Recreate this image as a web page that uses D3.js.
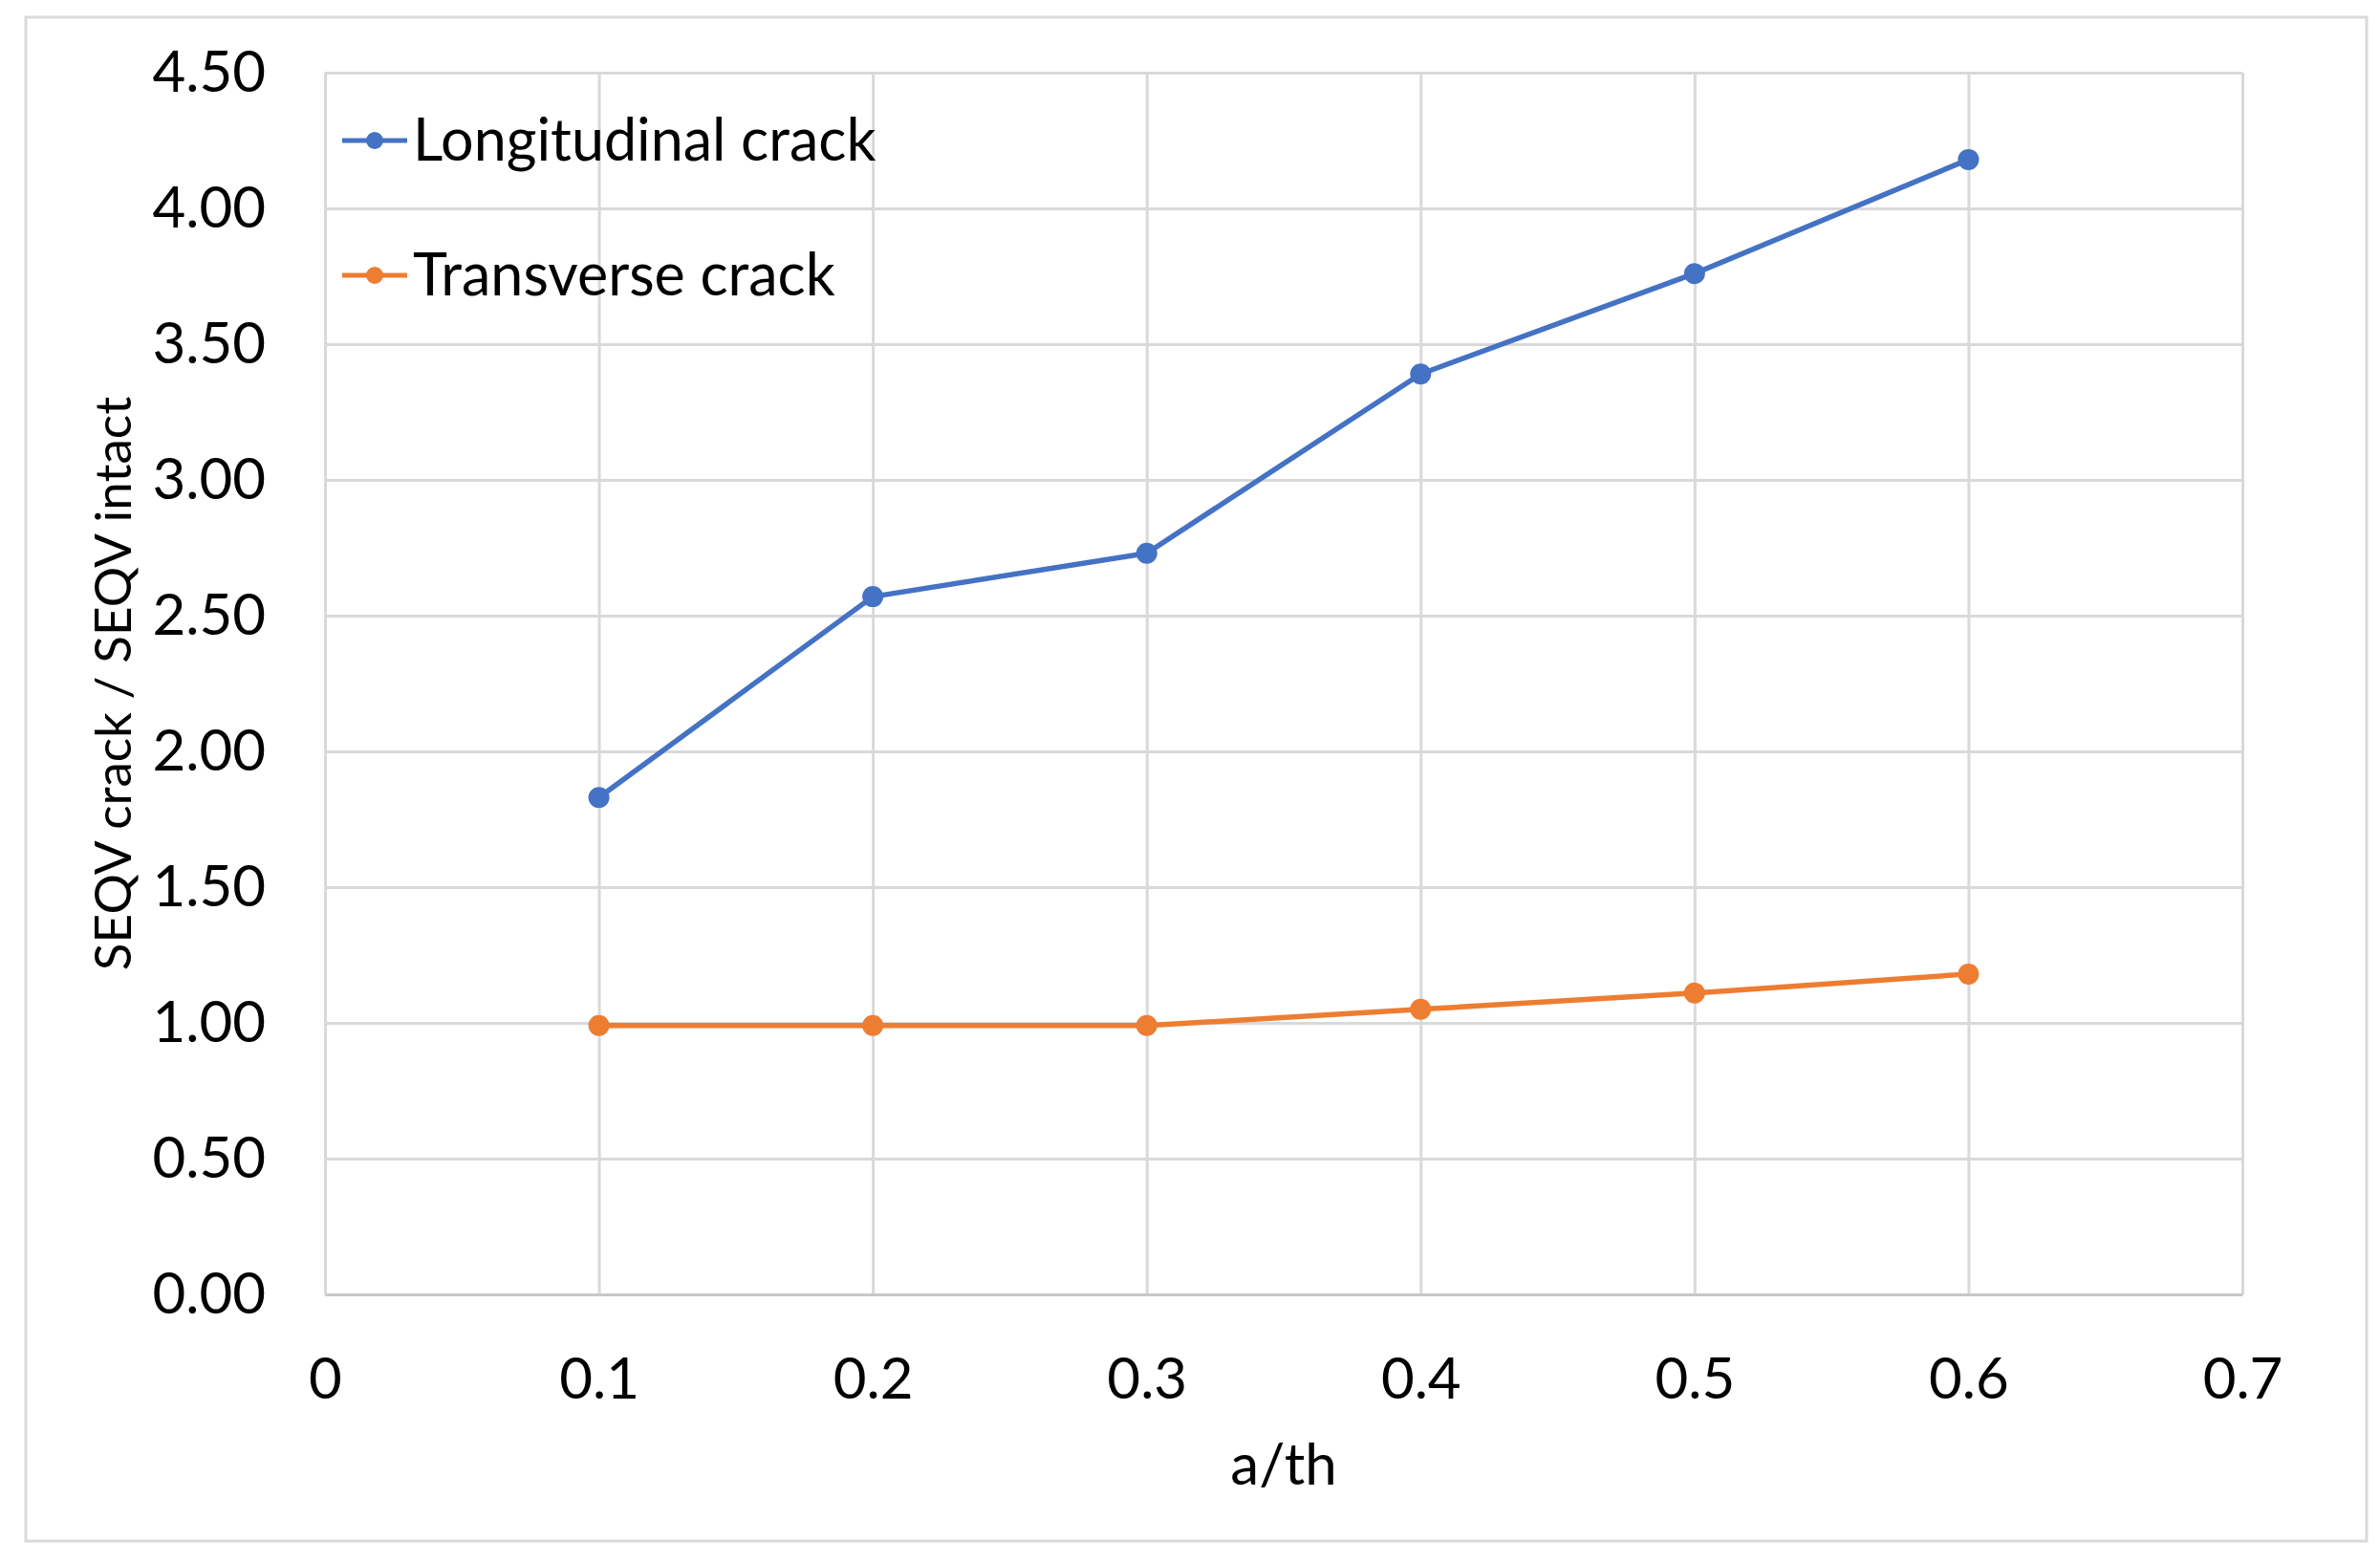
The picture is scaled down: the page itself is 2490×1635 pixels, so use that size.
<!DOCTYPE html>
<html>
<head>
<meta charset="utf-8">
<script src="https://cdn.jsdelivr.net/npm/d3@7"></script>
<style>
  body { margin: 0; background: #ffffff; }
  text { font-family: Lato, "Open Sans", sans-serif; fill: #000000; }
</style>
</head>
<body>
<div id="chart"></div>
<script>
// data
const xValues = [0.1, 0.2, 0.3, 0.4, 0.5, 0.6];
const longitudinal = [1.83, 2.57, 2.73, 3.39, 3.76, 4.18];
const transverse = [0.99, 0.99, 0.99, 1.05, 1.11, 1.18];
const seriesNames = ["Longitudinal crack", "Transverse crack"];
const seriesColors = ["#4472C4", "#ED7D31"];
const xTicks = [0, 0.1, 0.2, 0.3, 0.4, 0.5, 0.6, 0.7];
const yTicks = [0, 0.5, 1, 1.5, 2, 2.5, 3, 3.5, 4, 4.5];
const xTitle = "a/th";
const yTitle = "SEQV crack / SEQV intact";

var W = 2490, H = 1635;
var margin = { left: 340, right: 144, top: 76, bottom: 281 };
var width = W - margin.left - margin.right;
var height = H - margin.top - margin.bottom;

var svg = d3.select("#chart").append("svg")
  .attr("width", W).attr("height", H);

// chart border
svg.append("rect")
  .attr("x", 27).attr("y", 18)
  .attr("width", 2449).attr("height", 1594)
  .attr("fill", "#ffffff")
  .attr("stroke", "#D9D9D9")
  .attr("stroke-width", 3);

var g = svg.append("g")
  .attr("transform", "translate(" + margin.left + "," + margin.top + ")");

var xScale = d3.scaleLinear().domain([0, 0.7]).range([0, width]);
var yScale = d3.scaleLinear().domain([0, 4.5]).range([height, 0]);

// gridlines
g.append("g")
  .attr("class", "grid-x")
  .attr("transform", "translate(0," + height + ")")
  .call(d3.axisBottom(xScale).tickValues(xTicks).tickSize(-height).tickFormat(""))
  .call(a => a.select(".domain").remove())
  .selectAll("line").attr("stroke", "#D9D9D9").attr("stroke-width", 3);

g.append("g")
  .attr("class", "grid-y")
  .call(d3.axisLeft(yScale).tickValues(yTicks).tickSize(-width).tickFormat(""))
  .call(a => a.select(".domain").remove())
  .selectAll("line").attr("stroke", "#D9D9D9").attr("stroke-width", 3);

// x axis
var xAxis = g.append("g")
  .attr("transform", "translate(0," + height + ")")
  .call(d3.axisBottom(xScale).tickValues(xTicks).tickSize(0).tickPadding(66)
    .tickFormat(d => d === 0 ? "0" : d.toFixed(1)));
xAxis.select(".domain").attr("stroke", "#C8C8C8").attr("stroke-width", 3);
xAxis.selectAll("text").style("font-size", "60px").attr("fill", "#000");

// y axis
var yAxis = g.append("g")
  .call(d3.axisLeft(yScale).tickValues(yTicks).tickSize(0).tickPadding(62)
    .tickFormat(d => d.toFixed(2)));
yAxis.select(".domain").attr("stroke", "#D9D9D9").attr("stroke-width", 3);
yAxis.selectAll("text").style("font-size", "60px").attr("fill", "#000");

// axis titles
svg.append("text")
  .attr("x", margin.left + width / 2)
  .attr("y", 1553)
  .attr("text-anchor", "middle")
  .style("font-size", "60px")
  .text(xTitle);

svg.append("text")
  .attr("transform", "translate(137," + (margin.top + height / 2) + ") rotate(-90)")
  .attr("text-anchor", "middle")
  .style("font-size", "53px")
  .text(yTitle);

// lines and markers
var series = [longitudinal, transverse];
var line = d3.line()
  .x((d, i) => xScale(xValues[i]))
  .y(d => yScale(d));

series.forEach(function (vals, s) {
  g.append("path")
    .datum(vals)
    .attr("d", line)
    .attr("fill", "none")
    .attr("stroke", seriesColors[s])
    .attr("stroke-width", 5.5)
    .attr("stroke-linejoin", "round");

  g.selectAll(".dot" + s)
    .data(vals)
    .enter()
    .append("circle")
    .attr("class", "dot" + s)
    .attr("cx", (d, i) => xScale(xValues[i]))
    .attr("cy", d => yScale(d))
    .attr("r", 11)
    .attr("fill", seriesColors[s]);
});

// legend
var legend = svg.selectAll(".legend")
  .data(seriesNames)
  .enter().append("g")
  .attr("class", "legend")
  .attr("transform", (d, i) => "translate(0," + (147 + i * 141) + ")");

legend.append("line")
  .attr("x1", 358).attr("x2", 426)
  .attr("y1", 0).attr("y2", 0)
  .attr("stroke", (d, i) => seriesColors[i])
  .attr("stroke-width", 5);

legend.append("circle")
  .attr("cx", 392).attr("cy", 0).attr("r", 9)
  .attr("fill", (d, i) => seriesColors[i]);

legend.append("text")
  .attr("x", 432)
  .attr("y", 21)
  .style("font-size", "61px")
  .text(d => d);
</script>
</body>
</html>
